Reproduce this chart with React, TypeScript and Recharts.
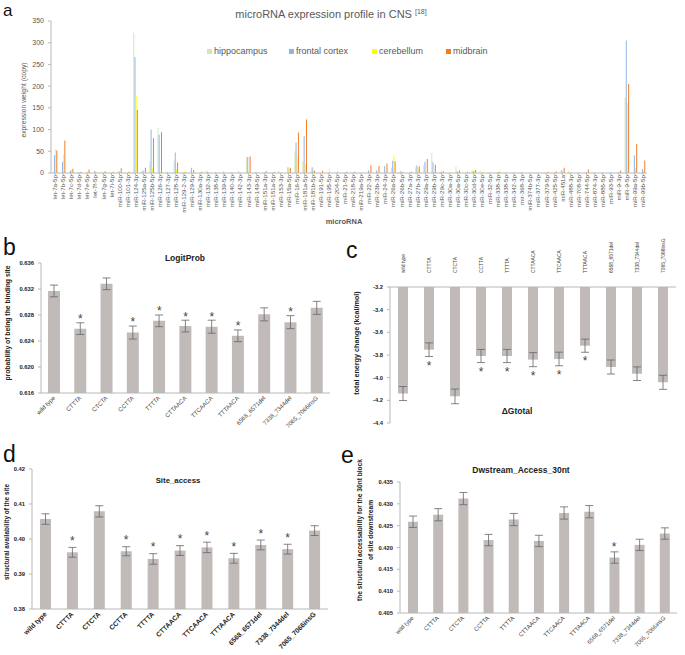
import React from "react";
import { BarChart, Bar, ComposedChart, Line, XAxis, YAxis, ErrorBar } from "recharts";

const FONT = '"Liberation Sans", Arial, sans-serif';

// ---- panel a: microRNA expression ----
const mirnas = [
  "let-7a-5p", "let-7b-5p", "let-7c-5p", "let-7d-5p", "let-7e-5p", "let-7f-5p", "let-7g-5p", "let-7i-5p",
  "miR-100-5p", "miR-101-3p", "miR-124-3p", "miR-125a-5p", "miR-125b-5p", "miR-126-3p", "miR-127-3p",
  "miR-128-3p", "miR-129-2-3p", "miR-129-5p", "miR-130a-3p", "miR-132-3p", "miR-138-5p", "miR-139-5p",
  "miR-140-3p", "miR-142-3p", "miR-143-3p", "miR-149-5p", "miR-151a-3p", "miR-151a-5p", "miR-153-3p",
  "miR-15a-5p", "miR-16-5p", "miR-181a-5p", "miR-181b-5p", "miR-191-5p", "miR-195-5p", "miR-204-5p",
  "miR-21-5p", "miR-218-5p", "miR-219a-5p", "miR-22-3p", "miR-23b-3p", "miR-24-3p", "miR-26a-5p",
  "miR-26b-5p", "miR-27a-3p", "miR-27b-3p", "miR-29a-3p", "miR-29b-3p", "miR-29c-3p", "miR-30a-3p",
  "miR-30a-5p", "miR-30c-5p", "miR-30d-5p", "miR-30e-5p", "miR-32-5p", "miR-338-3p", "miR-338-5p",
  "miR-342-3p", "mir-368-3p", "miR-374b-5p", "miR-377-3p", "miR-379-5p", "miR-425-5p", "miR-451a",
  "miR-488-3p", "miR-708-5p", "miR-744-5p", "miR-874-3p", "miR-885-5p", "miR-93-5p", "miR-9-3p",
  "miR-9-5p", "miR-99a-5p", "miR-99b-5p",
];
const hippocampus = [
  0, 0, 3, 0, 0, 0, 0, 0, 0, 0, 323, 4, 27, 105, 0, 28, 3, 0, 0, 5, 0, 0, 1, 5, 36, 0, 0, 0, 6,
  0, 50, 27, 4, 0, 0, 0, 0, 0, 0, 0, 0, 0, 12, 2, 0, 13, 18, 45, 2, 0, 15, 0, 6, 5, 2, 0, 0,
  0, 0, 0, 1, 2, 0, 3, 5, 1, 0, 0, 0, 0, 0, 174, 0, 0,
];
const frontalCortex = [
  41, 26, 6, 2, 0, 5, 0, 0, 4, 0, 267, 6, 100, 88, 3, 47, 0, 12, 0, 3, 2, 3, 1, 1, 37, 3, 0, 0, 0,
  13, 70, 85, 13, 0, 0, 0, 0, 0, 0, 6, 6, 16, 28, 4, 0, 18, 26, 25, 3, 0, 4, 0, 5, 0, 0, 2, 1,
  1, 2, 0, 0, 0, 0, 7, 0, 0, 3, 0, 2, 2, 2, 305, 41, 9,
];
const cerebellum = [
  55, 44, 8, 0, 4, 4, 3, 2, 0, 2, 177, 0, 12, 2, 0, 9, 3, 0, 2, 0, 0, 0, 0, 0, 5, 0, 0, 0, 0,
  13, 38, 20, 8, 0, 10, 6, 0, 0, 0, 0, 0, 0, 40, 4, 0, 12, 0, 0, 0, 2, 3, 0, 6, 2, 0, 2, 0,
  0, 0, 0, 0, 0, 0, 0, 3, 0, 0, 1, 0, 0, 0, 161, 12, 6,
];
const midbrain = [
  52, 75, 10, 3, 8, 0, 4, 3, 11, 3, 145, 12, 80, 94, 0, 24, 2, 7, 3, 0, 0, 0, 0, 0, 38, 0, 4, 3, 0,
  11, 93, 123, 5, 5, 0, 0, 3, 3, 0, 18, 16, 22, 27, 2, 3, 15, 32, 19, 4, 0, 6, 3, 7, 0, 0, 3, 0,
  0, 0, 0, 0, 3, 4, 12, 0, 0, 8, 0, 0, 0, 5, 205, 67, 29,
];
const regionKeys = ["hippocampus", "frontalCortex", "cerebellum", "midbrain"];
const regionNames = ["hippocampus", "frontal cortex", "cerebellum", "midbrain"];
const regionColors = ["#d7e4bd", "#8eb4e3", "#ffff00", "#f57a22"];
const expressionTicks = [0, 50, 100, 150, 200, 250, 300, 350];

const expressionData = mirnas.map((name, i) => ({
  name,
  hippocampus: hippocampus[i],
  frontalCortex: frontalCortex[i],
  cerebellum: cerebellum[i],
  midbrain: midbrain[i],
}));

// ---- panels b-e: site variants ----
const variants = [
  "wild type", "CTTTA", "CTCTA", "CCTTA", "TTTTA", "CTTAACA", "TTCAACA", "TTTAACA",
  "6568_6571del", "7338_7344del", "7065_7066insG",
];

const logitProb = [0.6317, 0.6259, 0.6328, 0.6253, 0.6271, 0.6263, 0.6262, 0.6248, 0.6281, 0.6269, 0.6291];
const logitProbErr = [0.0009, 0.0009, 0.0009, 0.001, 0.0009, 0.0009, 0.001, 0.0009, 0.001, 0.001, 0.001];
const logitProbSig = [false, true, false, true, true, true, true, true, false, true, false];
const logitTicks = [0.616, 0.62, 0.624, 0.628, 0.632, 0.636];

const deltaG = [-4.14, -3.753, -4.165, -3.809, -3.809, -3.841, -3.835, -3.718, -3.906, -3.965, -4.041];
const deltaGErr = [0.062, 0.06, 0.065, 0.058, 0.058, 0.062, 0.06, 0.058, 0.062, 0.06, 0.062];
const deltaGSig = [false, true, false, true, true, true, true, true, false, false, false];
const deltaGTicks = [-4.4, -4.2, -4.0, -3.8, -3.6, -3.4, -3.2];

const siteAccess = [0.4057, 0.3962, 0.4079, 0.3965, 0.3943, 0.3967, 0.3976, 0.3945, 0.3983, 0.3971, 0.4024];
const siteAccessErr = [0.0015, 0.0014, 0.0016, 0.0013, 0.0015, 0.0014, 0.0015, 0.0014, 0.0014, 0.0014, 0.0014];
const siteAccessSig = [false, true, false, true, true, true, true, true, true, true, false];
const siteTicks = [0.38, 0.39, 0.4, 0.41, 0.42];

const dwAccess = [0.4259, 0.4275, 0.4312, 0.4217, 0.4264, 0.4215, 0.4279, 0.4282, 0.4177, 0.4206, 0.4232];
const dwAccessErr = [0.0013, 0.0014, 0.0014, 0.0013, 0.0014, 0.0013, 0.0014, 0.0014, 0.0013, 0.0013, 0.0013];
const dwAccessSig = [false, false, false, false, false, false, false, false, true, false, false];
const dwTicks = [0.405, 0.41, 0.415, 0.42, 0.425, 0.43, 0.435];

const BAR_GRAY = "#c0bbb9";
const AXIS_GRAY = "#b8b8b8";

function buildVariantData(values: number[], errs: number[], sig: boolean[], starGap: number, below = false) {
  return variants.map((name, i) => ({
    name,
    value: values[i],
    err: errs[i],
    star: sig[i] ? (below ? values[i] - errs[i] - starGap : values[i] + errs[i] + starGap) : null,
  }));
}

const logitData = buildVariantData(logitProb, logitProbErr, logitProbSig, 0.001);
const deltaGData = buildVariantData(deltaG, deltaGErr, deltaGSig, 0.055, true);
const siteData = buildVariantData(siteAccess, siteAccessErr, siteAccessSig, 0.0026);
const dwData = buildVariantData(dwAccess, dwAccessErr, dwAccessSig, 0.0018);

function MirnaTick({ x, y, payload }: any) {
  return (
    <text x={x} y={y} dy={2.2} transform={`rotate(-90, ${x}, ${y})`} textAnchor="end"
      fontSize={6.2} fill="#595959" fontFamily={FONT}>
      {payload.value}
    </text>
  );
}

function slantTick(size: number, bold: boolean) {
  return ({ x, y, payload }: any) => (
    <text x={x} y={y} dy={size * 0.35} transform={`rotate(-45, ${x}, ${y})`} textAnchor="end"
      fontSize={size} fontWeight={bold ? 700 : 400} fill={bold ? "#222" : "#444"} fontFamily={FONT}>
      {payload.value}
    </text>
  );
}

function TopTick({ x, y, payload }: any) {
  return (
    <text x={x} y={y} dy={1.7} transform={`rotate(-90, ${x}, ${y})`} textAnchor="start"
      fontSize={4.9} fill="#444" fontFamily={FONT}>
      {payload.value}
    </text>
  );
}

function StarDot(props: any) {
  const { cx, cy, index } = props;
  if (cy == null || Number.isNaN(cy)) return <g key={`st${index}`} />;
  return (
    <text key={`st${index}`} x={cx} y={cy + 6.8} textAnchor="middle" fontSize={12} fill="#444" fontFamily={FONT}>
      *
    </text>
  );
}

const yTickStyle = { fontSize: 5.8, fontWeight: 700, fill: "#222", fontFamily: FONT };

type VariantPanelProps = {
  data: any[];
  width: number;
  height: number;
  margin: { top: number; right: number; left: number; bottom: number };
  yWidth: number;
  xHeight: number;
  domain: [number, number];
  ticks: number[];
  digits: number;
  barSize: number;
  tick: any;
  top?: boolean;
};

function VariantPanel(p: VariantPanelProps) {
  return (
    <ComposedChart width={p.width} height={p.height} data={p.data} margin={p.margin} style={{ fontFamily: FONT }}>
      <XAxis
        dataKey="name"
        orientation={p.top ? "top" : "bottom"}
        height={p.xHeight}
        interval={0}
        tick={p.tick}
        tickLine={false}
        tickSize={p.top ? 4 : 0}
        tickMargin={p.top ? 10 : 4}
        axisLine={{ stroke: AXIS_GRAY }}
      />
      <YAxis
        width={p.yWidth}
        domain={p.domain}
        ticks={p.ticks}
        interval={0}
        allowDataOverflow
        tickFormatter={(v: number) => v.toFixed(p.digits)}
        tick={yTickStyle}
        tickSize={3}
        tickMargin={4}
        axisLine={{ stroke: AXIS_GRAY }}
        tickLine={{ stroke: AXIS_GRAY }}
      />
      <Bar dataKey="value" fill={BAR_GRAY} barSize={p.barSize} isAnimationActive={false}>
        <ErrorBar dataKey="err" width={4} stroke="#666" strokeWidth={0.8} />
      </Bar>
      <Line dataKey="star" stroke="none" dot={StarDot} activeDot={false} legendType="none" isAnimationActive={false} />
    </ComposedChart>
  );
}

function Overlay() {
  const t = (x: number, y: number, s: string, size: number, opts: any = {}) => (
    <text x={x} y={y} fontSize={size} fontFamily={FONT} textAnchor={opts.anchor || "middle"}
      fontWeight={opts.bold ? 700 : 400} fill={opts.fill || "#222"}
      transform={opts.rotate ? `rotate(-90, ${x}, ${y})` : undefined}
      dominantBaseline={opts.rotate ? "central" : undefined}>
      {s}
    </text>
  );
  return (
    <svg width={685} height={655} style={{ position: "absolute", left: 0, top: 0, pointerEvents: "none" }}>
      {t(3, 15.5, "a", 17, { anchor: "start", fill: "#111" })}
      <text x={331} y={18} fontSize={11} fontFamily={FONT} textAnchor="middle" fill="#595959">
        microRNA expression profile in CNS <tspan fontSize={7} dy={-4}>[18]</tspan>
      </text>
      {t(23, 100, "expression weight (copy)", 6.8, { rotate: true, fill: "#595959" })}
      {t(344, 224, "microRNA", 7.5, { bold: true, fill: "#595959" })}

      {t(3, 255, "b", 23, { anchor: "start", fill: "#111" })}
      {t(185, 261, "LogitProb", 8.5, { bold: true })}
      {t(7, 323, "probability of being the binding site", 6.8, { rotate: true, bold: true })}

      {t(346, 258, "c", 23, { anchor: "start", fill: "#111" })}
      {t(356, 343, "total energy change (kcal/mol)", 7.2, { rotate: true, bold: true })}
      {t(517, 414, "\u0394Gtotal", 8.5, { bold: true })}

      {t(3, 462, "d", 23, { anchor: "start", fill: "#111" })}
      {t(178, 483, "Site_access", 7.8, { bold: true })}
      {t(6, 532, "structural availability of the site", 6.4, { rotate: true, bold: true })}

      {t(341, 463, "e", 23, { anchor: "start", fill: "#111" })}
      {t(521, 473, "Dwstream_Access_30nt", 8.5, { bold: true })}
      {t(359, 530, "the structural accessability for the 30nt block", 6.6, { rotate: true, bold: true })}
      {t(370, 530, "of site downstream", 6.6, { rotate: true, bold: true })}
    </svg>
  );
}

function ExpressionLegend() {
  const xs = [207, 289, 372, 446];
  return (
    <div style={{ position: "absolute", left: 0, top: 0, width: 685, height: 60, pointerEvents: "none" }}>
      {regionNames.map((n, i) => (
        <div key={n} style={{ position: "absolute", left: xs[i], top: 46, display: "flex", alignItems: "center",
          fontFamily: FONT, fontSize: 9, color: "#595959", lineHeight: "10px", whiteSpace: "nowrap" }}>
          <span style={{ display: "inline-block", width: 5, height: 5, background: regionColors[i], marginRight: 2 }} />
          {n}
        </div>
      ))}
    </div>
  );
}

export default function App() {
  return (
    <div style={{ position: "absolute", left: 0, top: 0, width: 685, height: 655, background: "#fff", overflow: "hidden" }}>
      <div style={{ position: "absolute", left: 0, top: 0 }}>
        <BarChart width={685} height={215} data={expressionData}
          margin={{ top: 21, right: 38, left: 0, bottom: 0 }}
          barCategoryGap="22%" barGap={0.2} style={{ fontFamily: FONT }}>
          <XAxis dataKey="name" height={42} interval={0} tick={MirnaTick} tickSize={2} tickMargin={0}
            axisLine={{ stroke: AXIS_GRAY }} tickLine={{ stroke: AXIS_GRAY }} />
          <YAxis width={51} domain={[0, 350]} ticks={expressionTicks} interval={0}
            tick={{ fontSize: 7, fill: "#595959", fontFamily: FONT }} tickSize={3} tickMargin={4}
            axisLine={{ stroke: AXIS_GRAY }} tickLine={{ stroke: AXIS_GRAY }} />
          {regionKeys.map((k, i) => (
            <Bar key={k} dataKey={k} name={regionNames[i]} fill={regionColors[i]} isAnimationActive={false} />
          ))}
        </BarChart>
      </div>
      <ExpressionLegend />

      <div style={{ position: "absolute", left: 0, top: 250 }}>
        <VariantPanel data={logitData} width={340} height={185} margin={{ top: 13, right: 10, left: 0, bottom: 0 }}
          yWidth={41} xHeight={42} domain={[0.616, 0.636]} ticks={logitTicks} digits={3} barSize={12}
          tick={slantTick(6, false)} />
      </div>

      <div style={{ position: "absolute", left: 340, top: 230 }}>
        <VariantPanel data={deltaGData} width={345} height={200} margin={{ top: 0, right: 9, left: 0, bottom: 7 }}
          yWidth={50} xHeight={57} domain={[-4.4, -3.2]} ticks={deltaGTicks} digits={1} barSize={10}
          tick={TopTick} top />
      </div>

      <div style={{ position: "absolute", left: 0, top: 455 }}>
        <VariantPanel data={siteData} width={340} height={200} margin={{ top: 14, right: 12, left: 0, bottom: 0 }}
          yWidth={32} xHeight={46} domain={[0.38, 0.42]} ticks={siteTicks} digits={2} barSize={11}
          tick={slantTick(6.8, true)} />
      </div>

      <div style={{ position: "absolute", left: 340, top: 470 }}>
        <VariantPanel data={dwData} width={345} height={185} margin={{ top: 12, right: 8, left: 0, bottom: 0 }}
          yWidth={60} xHeight={42} domain={[0.405, 0.435]} ticks={dwTicks} digits={3} barSize={10}
          tick={slantTick(5.8, false)} />
      </div>

      <Overlay />
    </div>
  );
}
